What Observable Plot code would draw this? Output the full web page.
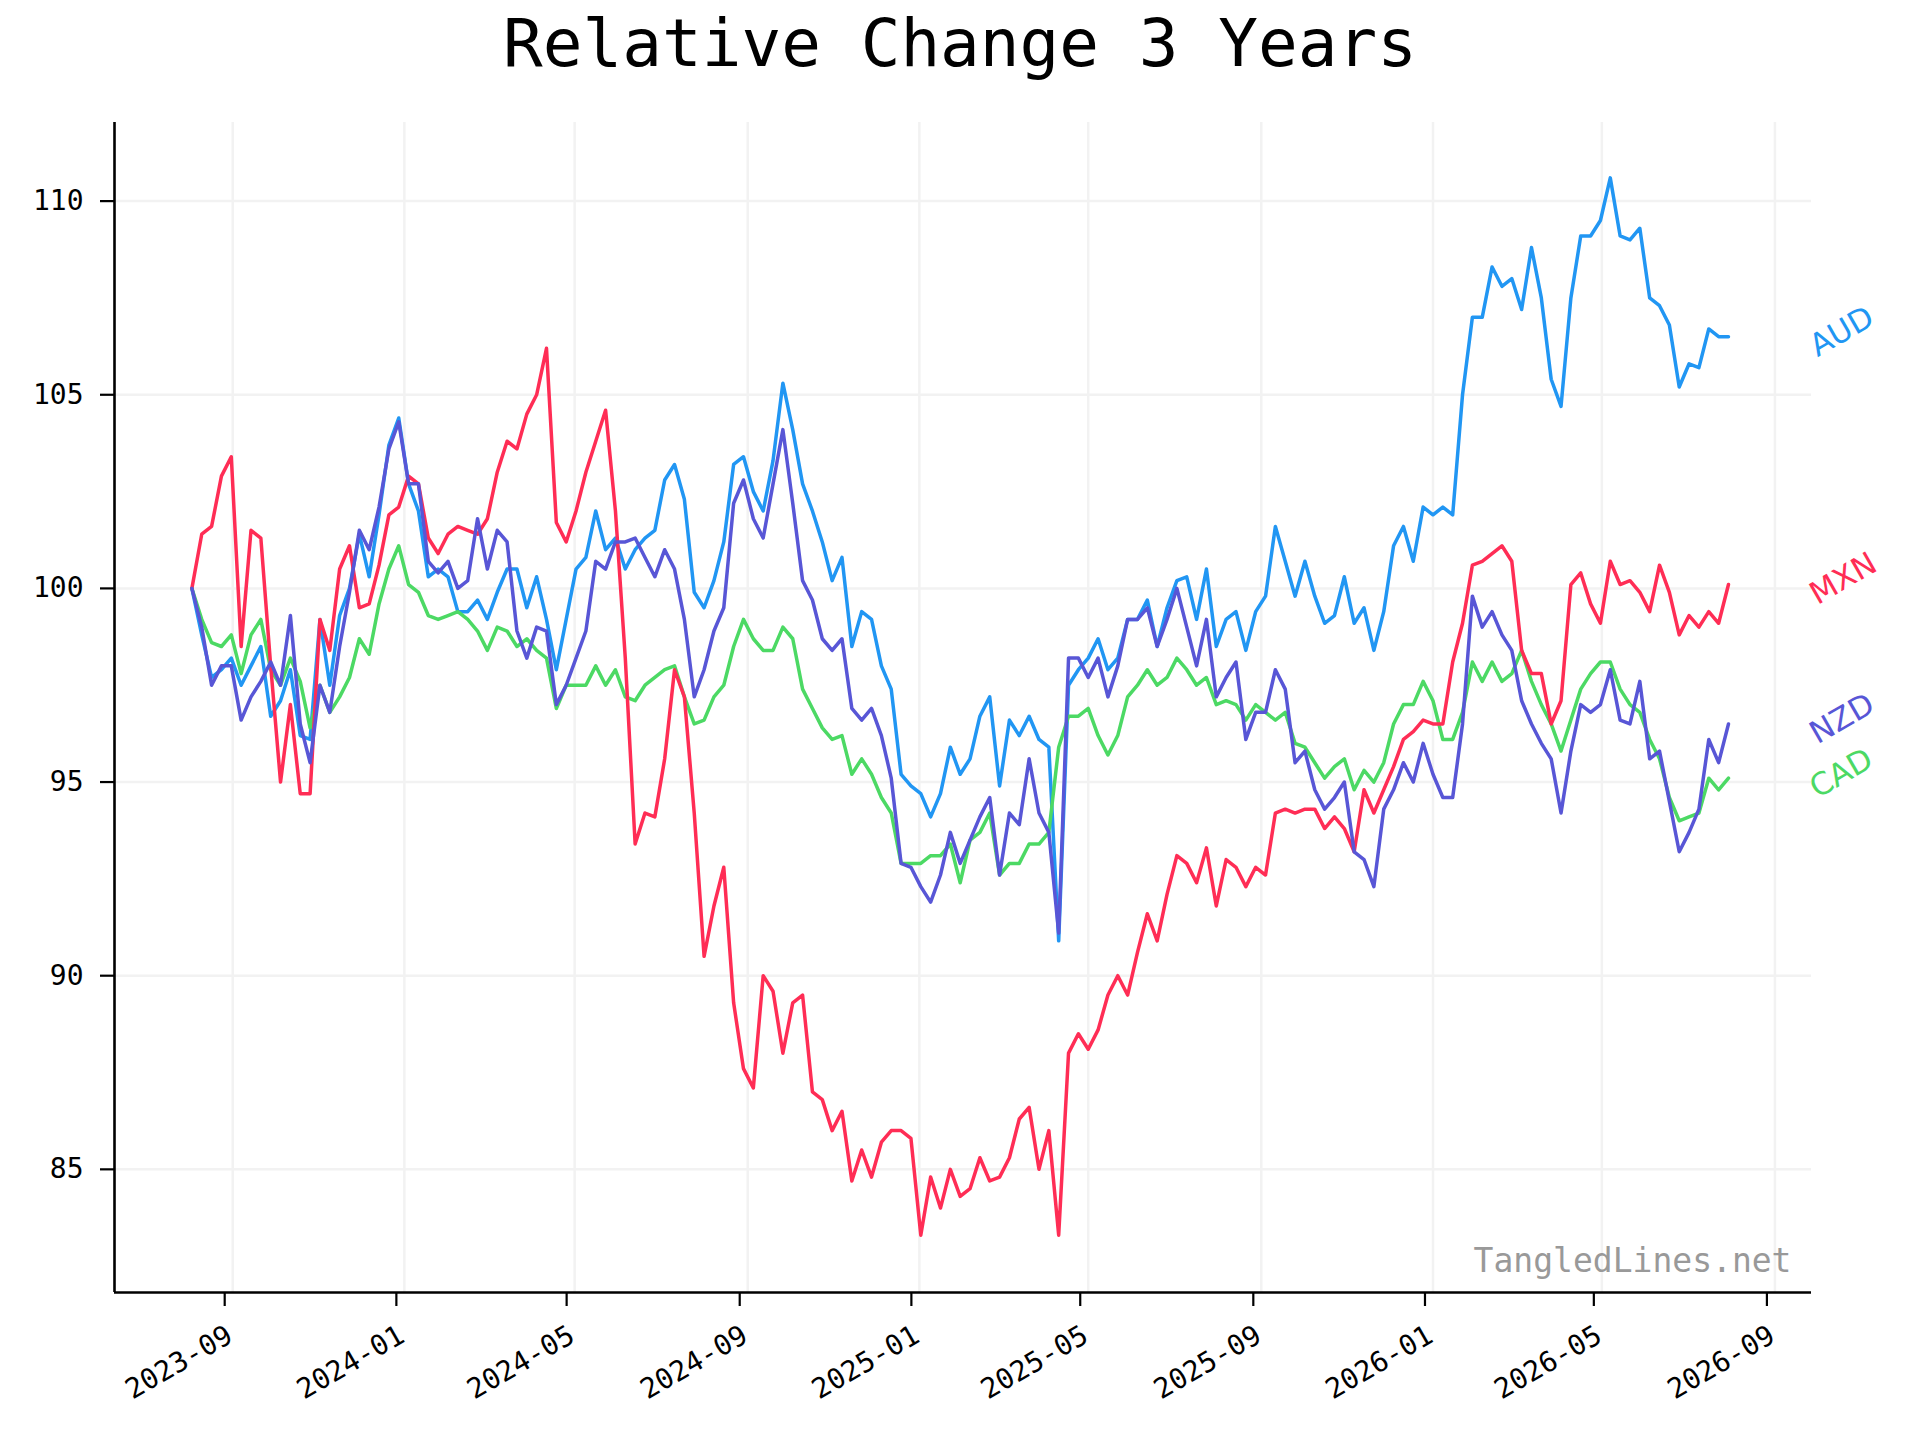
<!DOCTYPE html>
<html><head><meta charset="utf-8">
<script src="https://cdn.jsdelivr.net/npm/d3@7"></script>
<script src="https://cdn.jsdelivr.net/npm/@observablehq/plot@0.6"></script>
<style>
body{margin:0;background:#fff;}
#wrap{width:1920px;height:1440px;background:#fff;overflow:hidden;}
#title{height:100px;box-sizing:border-box;padding-top:11px;font-family:"DejaVu Sans Mono",monospace;font-size:66px;line-height:66px;text-align:center;color:#000;white-space:pre;}
</style></head><body>
<div id="wrap"><div id="title">Relative Change 3 Years</div><div id="chart"></div></div>
<script>
// weekly observations starting on this date
const startDate = "2023-08-03";
const stepDays = 7;

const AUD = [100, 98.8, 97.7, 97.9, 98.2, 97.5, 98.0, 98.5, 96.7, 97.1, 97.9, 96.2, 96.1, 99.2, 97.5, 99.3, 100.0, 101.4, 100.3, 101.9, 103.7, 104.4, 102.7, 102.0, 100.3, 100.5, 100.3,
  99.4, 99.4, 99.7, 99.2, 99.9, 100.5, 100.5, 99.5, 100.3, 99.2, 97.9, 99.2, 100.5, 100.8, 102.0, 101.0, 101.3, 100.5, 101.0, 101.3, 101.5, 102.8, 103.2, 102.3, 99.9, 99.5,
  100.2, 101.2, 103.2, 103.4, 102.5, 102.0, 103.3, 105.3, 104.1, 102.7, 102.0, 101.2, 100.2, 100.8, 98.5, 99.4, 99.2, 98.0, 97.4, 95.2, 94.9, 94.7, 94.1, 94.7, 95.9, 95.2, 95.6,
  96.7, 97.2, 94.9, 96.6, 96.2, 96.7, 96.1, 95.9, 90.9, 97.5, 97.9, 98.2, 98.7, 97.9, 98.2, 99.2, 99.2, 99.7, 98.5, 99.5, 100.2, 100.3, 99.2, 100.5, 98.5, 99.2,
  99.4, 98.4, 99.4, 99.8, 101.6, 100.7, 99.8, 100.7, 99.8, 99.1, 99.3, 100.3, 99.1, 99.5, 98.4, 99.4, 101.1, 101.6, 100.7, 102.1, 101.9, 102.1, 101.9, 105.0, 107.0, 107.0,
  108.3, 107.8, 108.0, 107.2, 108.8, 107.5, 105.4, 104.7, 107.5, 109.1, 109.1, 109.5, 110.6, 109.1, 109.0, 109.3, 107.5, 107.3, 106.8, 105.2, 105.8, 105.7, 106.7, 106.5, 106.5];

const CAD = [100, 99.2, 98.6, 98.5, 98.8, 97.8, 98.8, 99.2, 97.9, 97.5, 98.2, 97.6, 96.4, 97.5, 96.8, 97.2, 97.7, 98.7, 98.3, 99.6, 100.5, 101.1, 100.1, 99.9, 99.3, 99.2, 99.3,
  99.4, 99.2, 98.9, 98.4, 99.0, 98.9, 98.5, 98.7, 98.4, 98.2, 96.9, 97.5, 97.5, 97.5, 98.0, 97.5, 97.9, 97.2, 97.1, 97.5, 97.7, 97.9, 98.0, 97.2, 96.5, 96.6,
  97.2, 97.5, 98.5, 99.2, 98.7, 98.4, 98.4, 99.0, 98.7, 97.4, 96.9, 96.4, 96.1, 96.2, 95.2, 95.6, 95.2, 94.6, 94.2, 92.9, 92.9, 92.9, 93.1, 93.1, 93.4, 92.4, 93.5,
  93.7, 94.2, 92.6, 92.9, 92.9, 93.4, 93.4, 93.7, 95.9, 96.7, 96.7, 96.9, 96.2, 95.7, 96.2, 97.2, 97.5, 97.9, 97.5, 97.7, 98.2, 97.9, 97.5, 97.7, 97.0, 97.1,
  97.0, 96.6, 97.0, 96.8, 96.6, 96.8, 96.0, 95.9, 95.5, 95.1, 95.4, 95.6, 94.8, 95.3, 95.0, 95.5, 96.5, 97.0, 97.0, 97.6, 97.1, 96.1, 96.1, 96.8, 98.1, 97.6,
  98.1, 97.6, 97.8, 98.4, 97.6, 97.0, 96.5, 95.8, 96.6, 97.4, 97.8, 98.1, 98.1, 97.4, 97.0, 96.8, 96.1, 95.6, 94.6, 94.0, 94.1, 94.2, 95.1, 94.8, 95.1];

const MXN = [100, 101.4, 101.6, 102.9, 103.4, 98.5, 101.5, 101.3, 98.0, 95.0, 97.0, 94.7, 94.7, 99.2, 98.4, 100.5, 101.1, 99.5, 99.6, 100.6, 101.9, 102.1, 102.9, 102.7, 101.3, 100.9, 101.4,
  101.6, 101.5, 101.4, 101.8, 103.0, 103.8, 103.6, 104.5, 105.0, 106.2, 101.7, 101.2, 102.0, 103.0, 103.8, 104.6, 102.0, 98.2, 93.4, 94.2, 94.1, 95.6, 97.9, 97.2, 94.2, 90.5,
  91.8, 92.8, 89.3, 87.6, 87.1, 90.0, 89.6, 88.0, 89.3, 89.5, 87.0, 86.8, 86.0, 86.5, 84.7, 85.5, 84.8, 85.7, 86.0, 86.0, 85.8, 83.3, 84.8, 84.0, 85.0, 84.3, 84.5,
  85.3, 84.7, 84.8, 85.3, 86.3, 86.6, 85.0, 86.0, 83.3, 88.0, 88.5, 88.1, 88.6, 89.5, 90.0, 89.5, 90.6, 91.6, 90.9, 92.1, 93.1, 92.9, 92.4, 93.3, 91.8, 93.0,
  92.8, 92.3, 92.8, 92.6, 94.2, 94.3, 94.2, 94.3, 94.3, 93.8, 94.1, 93.8, 93.2, 94.8, 94.2, 94.8, 95.4, 96.1, 96.3, 96.6, 96.5, 96.5, 98.1, 99.1, 100.6, 100.7,
  100.9, 101.1, 100.7, 98.4, 97.8, 97.8, 96.5, 97.1, 100.1, 100.4, 99.6, 99.1, 100.7, 100.1, 100.2, 99.9, 99.4, 100.6, 99.9, 98.8, 99.3, 99.0, 99.4, 99.1, 100.1];

const NZD = [100, 99.0, 97.5, 98.0, 98.0, 96.6, 97.2, 97.6, 98.1, 97.5, 99.3, 96.5, 95.5, 97.5, 96.8, 98.5, 99.9, 101.5, 101.0, 102.1, 103.6, 104.3, 102.7, 102.7, 100.7, 100.4, 100.7,
  100.0, 100.2, 101.8, 100.5, 101.5, 101.2, 98.9, 98.2, 99.0, 98.9, 97.0, 97.5, 98.2, 98.9, 100.7, 100.5, 101.2, 101.2, 101.3, 100.8, 100.3, 101.0, 100.5, 99.2, 97.2, 97.9,
  98.9, 99.5, 102.2, 102.8, 101.8, 101.3, 102.7, 104.1, 102.2, 100.2, 99.7, 98.7, 98.4, 98.7, 96.9, 96.6, 96.9, 96.2, 95.1, 92.9, 92.8, 92.3, 91.9, 92.6, 93.7, 92.9, 93.5,
  94.1, 94.6, 92.6, 94.2, 93.9, 95.6, 94.2, 93.7, 91.1, 98.2, 98.2, 97.7, 98.2, 97.2, 98.0, 99.2, 99.2, 99.5, 98.5, 99.2, 100.0, 99.0, 98.0, 99.2, 97.2, 97.7,
  98.1, 96.1, 96.8, 96.8, 97.9, 97.4, 95.5, 95.8, 94.8, 94.3, 94.6, 95.0, 93.2, 93.0, 92.3, 94.3, 94.8, 95.5, 95.0, 96.0, 95.2, 94.6, 94.6, 96.5, 99.8, 99.0,
  99.4, 98.8, 98.4, 97.1, 96.5, 96.0, 95.6, 94.2, 95.8, 97.0, 96.8, 97.0, 97.9, 96.6, 96.5, 97.6, 95.6, 95.8, 94.5, 93.2, 93.7, 94.3, 96.1, 95.5, 96.5];

const seriesNames = ["AUD", "CAD", "MXN", "NZD"];
const seriesColors = ["#2196f3", "#4cd964", "#ff2d55", "#5856d6"];
const xTickLabels = ["2023-09", "2024-01", "2024-05", "2024-09", "2025-01", "2025-05", "2025-09", "2026-01", "2026-05", "2026-09"];
const yTicks = [85, 90, 95, 100, 105, 110];
const xDomainLabels = ["2023-06-09", "2026-09-27"];
const yDomain = [81.82, 112.03];
const watermark = "TangledLines.net";

const parseDay = d3.utcParse("%Y-%m-%d");
const parseMonth = d3.utcParse("%Y-%m");
const t0 = parseDay(startDate);
const valuesByName = {AUD, CAD, MXN, NZD};
const rows = [];
const lastRows = [];
for (const name of seriesNames) {
  const vals = valuesByName[name];
  vals.forEach((v, i) => rows.push({name, date: d3.utcDay.offset(t0, i * stepDays), value: v}));
  lastRows.push(rows[rows.length - 1]);
}
const xTicks = xTickLabels.map(parseMonth);
const xDomain = xDomainLabels.map(parseDay);

const chart = Plot.plot({
  width: 1920,
  height: 1340,
  marginTop: 22,
  marginBottom: 148,
  marginLeft: 114,
  marginRight: 109,
  style: {fontFamily: '"DejaVu Sans Mono", monospace', fontSize: "28px", background: "#fff", overflow: "visible", color: "#000"},
  x: {type: "utc", domain: xDomain, label: null},
  y: {domain: yDomain, label: null},
  color: {domain: seriesNames, range: seriesColors},
  marks: [
    Plot.gridY(yTicks, {stroke: "#f2f2f2", strokeOpacity: 1, strokeWidth: 2.5}),
    Plot.gridX(xTicks, {stroke: "#f2f2f2", strokeOpacity: 1, strokeWidth: 2.5}),
    Plot.lineY(rows, {x: "date", y: "value", z: "name", stroke: "name", strokeWidth: 3.5, strokeLinejoin: "round"}),
    Plot.ruleX([xDomain[0]], {stroke: "#000", strokeWidth: 2.6}),
    Plot.ruleY([yDomain[0]], {stroke: "#000", strokeWidth: 2.6}),
    Plot.axisY(yTicks, {tickSize: 14, tickPadding: 17, strokeWidth: 2.2, fontSize: 28, tickFormat: d => String(d), label: null}),
    Plot.axisX(xTicks, {tickSize: 14, tickPadding: 17, strokeWidth: 2.2, fontSize: 28, tickRotate: -30, textAnchor: "end", lineAnchor: "top", dx: -8, tickFormat: d3.utcFormat("%Y-%m"), label: null}),
    Plot.text(lastRows, {x: "date", y: "value", text: "name", fill: "name", rotate: -30, textAnchor: "start", lineAnchor: "middle", dx: 84, dy: 12, fontSize: 31, fontFamily: '"DejaVu Sans", sans-serif'}),
    Plot.text([watermark], {frameAnchor: "bottom-right", text: d => d, dx: -20, dy: -21, fill: "#999", fontSize: 33, textAnchor: "end", lineAnchor: "bottom"})
  ]
});
document.getElementById("chart").appendChild(chart);
</script>
</body></html>
